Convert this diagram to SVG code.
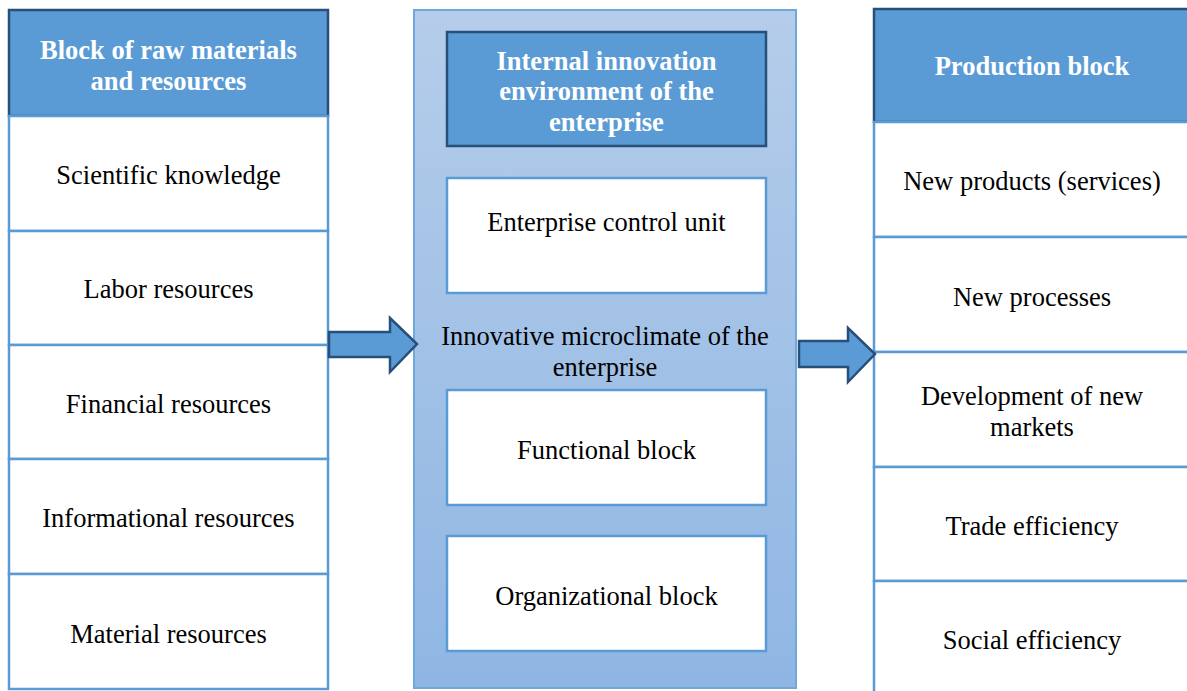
<svg xmlns="http://www.w3.org/2000/svg" width="1187" height="691" viewBox="0 0 1187 691">
<defs>
<linearGradient id="midGrad" x1="0" y1="0" x2="0" y2="1">
<stop offset="0" stop-color="#B5CDEA"/>
<stop offset="1" stop-color="#8FB6E3"/>
</linearGradient>
</defs>
<style>
.hdr{fill:#5B9BD5;stroke:#264F7A;stroke-width:2.5}
.cell{fill:#FFFFFF;stroke:#5B9BD5;stroke-width:2.5}
.t{font-family:"Liberation Serif","Times New Roman",serif;font-size:26.5px;fill:#000;text-anchor:middle}
.ht{font-family:"Liberation Serif","Times New Roman",serif;font-size:26.5px;font-weight:bold;fill:#FFFFFF;text-anchor:middle}
.arrow{fill:#5B9BD5;stroke:#264F7A;stroke-width:2.5;stroke-linejoin:miter}
</style>
<rect width="1187" height="691" fill="#FFFFFF"/>

<g id="left-block">
<rect class="hdr" x="9" y="10" width="319" height="106"/>
<text class="ht" x="168.5" y="59">Block of raw materials</text>
<text class="ht" x="168.5" y="90">and resources</text>
</g>
<g id="scientific-knowledge">
<rect class="cell" x="9" y="116" width="319" height="115"/>
<text class="t" x="168.5" y="184">Scientific knowledge</text>
</g>
<g id="labor-resources">
<rect class="cell" x="9" y="231" width="319" height="114"/>
<text class="t" x="168.5" y="298">Labor resources</text>
</g>
<g id="financial-resources">
<rect class="cell" x="9" y="345" width="319" height="114"/>
<text class="t" x="168.5" y="413">Financial resources</text>
</g>
<g id="informational-resources">
<rect class="cell" x="9" y="459" width="319" height="115"/>
<text class="t" x="168.5" y="527">Informational resources</text>
</g>
<g id="material-resources">
<rect class="cell" x="9" y="574" width="319" height="115"/>
<text class="t" x="168.5" y="643">Material resources</text>
</g>

<g id="middle-block">
<rect x="414" y="10" width="382" height="678" fill="url(#midGrad)" stroke="#6FA8DC" stroke-width="2"/>
<text class="t" x="605" y="345">Innovative microclimate of the</text>
<text class="t" x="605" y="376">enterprise</text>
</g>
<g id="middle-header">
<rect class="hdr" x="447" y="32" width="319" height="114"/>
<text class="ht" x="606.5" y="70">Internal innovation</text>
<text class="ht" x="606.5" y="100">environment of the</text>
<text class="ht" x="606.5" y="131">enterprise</text>
</g>
<g id="enterprise-control-unit">
<rect class="cell" x="447" y="178" width="319" height="115"/>
<text class="t" x="606.5" y="231">Enterprise control unit</text>
</g>
<g id="functional-block">
<rect class="cell" x="447" y="390" width="319" height="115"/>
<text class="t" x="606.5" y="459">Functional block</text>
</g>
<g id="organizational-block">
<rect class="cell" x="447" y="536" width="319" height="115"/>
<text class="t" x="606.5" y="605">Organizational block</text>
</g>

<g id="right-block">
<rect class="hdr" x="874" y="9" width="320" height="113"/>
<text class="ht" x="1032" y="75">Production block</text>
</g>
<g id="new-products">
<rect class="cell" x="874" y="122" width="320" height="115"/>
<text class="t" x="1032" y="190">New products (services)</text>
</g>
<g id="new-processes">
<rect class="cell" x="874" y="237" width="320" height="115"/>
<text class="t" x="1032" y="306">New processes</text>
</g>
<g id="new-markets">
<rect class="cell" x="874" y="352" width="320" height="115"/>
<text class="t" x="1032" y="405">Development of new</text>
<text class="t" x="1032" y="436">markets</text>
</g>
<g id="trade-efficiency">
<rect class="cell" x="874" y="467" width="320" height="114"/>
<text class="t" x="1032" y="535">Trade efficiency</text>
</g>
<g id="social-efficiency">
<rect class="cell" x="874" y="581" width="320" height="120"/>
<text class="t" x="1032" y="649">Social efficiency</text>
</g>

<g id="connectors">
<polygon class="arrow" points="329,332 390,332 390,318 417,344 390,372 390,357 329,357"/>
<polygon class="arrow" points="799,341 848,341 848,328 875,354 848,382 848,367 799,367"/>
</g>
</svg>
